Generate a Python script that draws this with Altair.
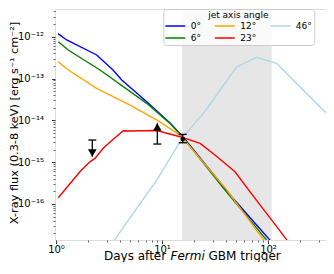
import altair as alt
import pandas as pd

FONT = "DejaVu Sans"

# ---------------- data ----------------
ANGLES = ["0°", "6°", "12°", "23°", "46°"]
COLORS = ["#0000ff", "#008000", "#ffa500", "#ff0000", "#add8e6"]

days_0 = [1.044, 1.262, 2.42, 3.45, 4.17, 7.18, 11.9, 15.8, 45.4, 104.4]
flux_0 = [1.18e-12, 8.34e-13, 3.65e-13, 1.60e-13, 9.23e-14, 2.79e-14, 8.63e-15, 3.98e-15, 1.49e-16, 1.37e-17]

days_6 = [1.051, 1.306, 2.6, 7.18, 11.9, 15.8, 39.3, 97.2]
flux_6 = [7.59e-13, 4.81e-13, 1.60e-13, 2.55e-14, 8.47e-15, 3.89e-15, 2.15e-16, 1.37e-17]

days_12 = [1.051, 1.306, 2.42, 4.99, 8.91, 14.8, 40.2, 91.7]
flux_12 = [2.52e-13, 1.60e-13, 5.83e-14, 2.32e-14, 1.02e-14, 4.45e-15, 2.27e-16, 1.37e-17]

days_23 = [1.051, 1.68, 2.09, 2.33, 2.79, 3.47, 4.31, 4.99, 8.91, 14.8, 22.9, 31.6, 48.8, 75.4, 108.4, 151.0]
flux_23 = [1.41e-16, 5.89e-16, 1.02e-15, 1.23e-15, 2.14e-15, 3.51e-15, 5.64e-15, 5.55e-15, 5.70e-15,
           4.06e-15, 2.82e-15, 1.48e-15, 5.89e-16, 1.36e-16, 4.12e-17, 1.37e-17]

days_46 = [3.55, 8.91, 15.9, 24.5, 27.3, 35.3, 50.7, 78.2, 120.8, 215.0, 384.5]
flux_46 = [1.37e-17, 3.73e-16, 4.06e-15, 1.47e-14, 2.11e-14, 5.31e-14, 1.91e-13, 3.21e-13, 2.31e-13, 5.31e-14, 1.22e-14]

# observations
LIM_DAYS = [2.2, 9.03]
LIM_CAP = [3.38e-15, 2.71e-15]
LIM_TIP = [1.35e-15, 8.47e-15]
LIM_HEAD = [1.66e-15, 6.92e-15]
LIM_SHAPE = ["triangle-down", "triangle-up"]

DET_DAY = [15.7]
DET_FLUX = [3.57e-15]
DET_LO = [2.91e-15]
DET_HI = [4.62e-15]

SHADE_START = [15.5]
SHADE_END = [108.4]

X_DOMAIN = [0.9785, 352.5]
Y_DOMAIN = [1.377e-17, 4.59e-12]

# ---------------- tables ----------------
rows = []
for ang, dd, ff in zip(ANGLES, [days_0, days_6, days_12, days_23, days_46],
                       [flux_0, flux_6, flux_12, flux_23, flux_46]):
    for d, f in zip(dd, ff):
        rows.append({"angle": ang, "day": d, "flux": f})
curves = pd.DataFrame(rows)

shade = pd.DataFrame({"start": SHADE_START, "end": SHADE_END})
limits = pd.DataFrame({"day": LIM_DAYS, "cap": LIM_CAP, "tip": LIM_TIP,
                       "head": LIM_HEAD, "shape": LIM_SHAPE})
det = pd.DataFrame({"day": DET_DAY, "flux": DET_FLUX, "lo": DET_LO, "hi": DET_HI})
rules = pd.DataFrame({"day": LIM_DAYS + DET_DAY, "y1": LIM_CAP + DET_LO, "y2": LIM_TIP + DET_HI})
caps = pd.DataFrame({"day": LIM_DAYS + DET_DAY + DET_DAY, "y": LIM_CAP + DET_LO + DET_HI})

xs = alt.Scale(type="log", domain=X_DOMAIN, nice=False)
ys = alt.Scale(type="log", domain=Y_DOMAIN, nice=False)

# ---------------- axes ----------------
X_MAJOR = [1, 10, 100]
X_MINOR = [k * m for m in (1, 10, 100) for k in range(2, 10) if k * m <= X_DOMAIN[1]]
Y_MAJOR = [1e-16, 1e-15, 1e-14, 1e-13, 1e-12]
Y_MINOR = [k * 10.0 ** e for e in range(-17, -11) for k in range(2, 10)
           if Y_DOMAIN[0] <= k * 10.0 ** e <= Y_DOMAIN[1]]

x_lab = "datum.value < 3 ? '10⁰' : datum.value < 30 ? '10¹' : '10²'"
sup = {-16: "10⁻¹⁶", -15: "10⁻¹⁵", -14: "10⁻¹⁴", -13: "10⁻¹³", -12: "10⁻¹²"}
y_lab = " : ".join(f"round(log(datum.value)/LN10) == {e} ? '{s}'" for e, s in sup.items()) + " : ''"

common = dict(domain=False, grid=False, tickColor="black", labelColor="black",
              labelFont=FONT, labelFontSize=10)

x_major = alt.Axis(orient="bottom", values=X_MAJOR, labelExpr=x_lab, tickSize=3.5, tickWidth=0.8,
                   labelPadding=1, title=None, **common)
x_minor = alt.Axis(orient="bottom", values=X_MINOR, labels=False, tickSize=2, tickWidth=0.6,
                   title=None, domain=False, grid=False, tickColor="black")
y_major = alt.Axis(orient="left", values=Y_MAJOR, labelExpr=y_lab, tickSize=3.5, tickWidth=0.8,
                   labelPadding=8,
                   title="X-ray flux (0.3-8 keV) [erg s⁻¹ cm⁻²]", titleFont=FONT, titleFontSize=11.3,
                   titleFontWeight="normal", titleColor="black", titleAngle=270,
                   titleX=-37.7, titleY=113.5, titleAlign="center", titleBaseline="alphabetic",
                   **common)
y_minor = alt.Axis(orient="left", values=Y_MINOR, labels=False, tickSize=2, tickWidth=0.6,
                   title=None, domain=False, grid=False, tickColor="black")

# ---------------- layers ----------------
shade_layer = alt.Chart(shade).mark_rect(color="#e6e6e6").encode(
    x=alt.X("start:Q", scale=xs, axis=x_minor),
    x2="end:Q",
)

lines = alt.Chart(curves).mark_line(strokeWidth=1.4, clip=True).encode(
    x=alt.X("day:Q", scale=xs, axis=x_major),
    y=alt.Y("flux:Q", scale=ys, axis=y_major),
    color=alt.Color(
        "angle:N",
        scale=alt.Scale(domain=ANGLES, range=COLORS),
        legend=alt.Legend(
            orient="none", legendX=108.3, legendY=0, columns=3, direction="vertical",
            title="jet axis angle", titleAnchor="middle", titleFont=FONT, titleFontSize=9,
            titleFontWeight="normal", titleColor="black", titlePadding=0,
            labelFont=FONT, labelFontSize=9, labelColor="black",
            symbolType="M-2,0H2", symbolSize=100, symbolStrokeWidth=1.5,
            symbolOffset=4, labelOffset=9.5, columnPadding=10.5, rowPadding=1,
            padding=2, fillColor="rgba(255,255,255,0.8)", strokeColor="#cccccc",
            cornerRadius=3,
        ),
    ),
    order=alt.Order("day:Q"),
)

rule_layer = alt.Chart(rules).mark_rule(color="black", strokeWidth=1.3).encode(
    x=alt.X("day:Q", scale=xs, axis=None),
    y=alt.Y("y1:Q", scale=ys, axis=None),
    y2="y2:Q",
)

cap_layer = alt.Chart(caps).mark_point(shape="stroke", size=64, color="black", strokeWidth=1.3,
                                       filled=False, opacity=1).encode(
    x=alt.X("day:Q", scale=xs, axis=None),
    y=alt.Y("y:Q", scale=ys, axis=y_minor),
)

head_layer = alt.Chart(limits).mark_point(filled=True, size=75, color="black", opacity=1).encode(
    x=alt.X("day:Q", scale=xs, axis=None),
    y=alt.Y("head:Q", scale=ys, axis=None),
    shape=alt.Shape("shape:N", scale=None, legend=None),
)

det_layer = alt.Chart(det).mark_point(filled=True, size=22, color="black", opacity=1).encode(
    x=alt.X("day:Q", scale=xs, axis=None),
    y=alt.Y("flux:Q", scale=ys, axis=None),
)

t1 = alt.Chart(pd.DataFrame({"t": ["Days after"]})).mark_text(
    align="left", baseline="alphabetic", font=FONT, fontSize=12, color="black").encode(
    text="t:N", x=alt.value(49), y=alt.value(250.5))
t2 = alt.Chart(pd.DataFrame({"t": ["Fermi"]})).mark_text(
    align="left", baseline="alphabetic", font=FONT, fontSize=12, fontStyle="italic", color="black").encode(
    text="t:N", x=alt.value(115.5), y=alt.value(250.5))
t3 = alt.Chart(pd.DataFrame({"t": ["GBM trigger"]})).mark_text(
    align="left", baseline="alphabetic", font=FONT, fontSize=12, color="black").encode(
    text="t:N", x=alt.value(153.5), y=alt.value(250.5))

chart = alt.layer(
    shade_layer, lines, rule_layer, cap_layer, head_layer, det_layer, t1, t2, t3
).resolve_axis(x="independent", y="independent").properties(
    width=271, height=231,
    autosize=alt.AutoSizeParams(type="none"),
    padding={"left": 47, "top": 1, "right": 0, "bottom": 22},
).configure_view(stroke="black", strokeWidth=1).configure(background="white")

chart.save("out.html", embed_options={"renderer": "svg", "actions": False})
